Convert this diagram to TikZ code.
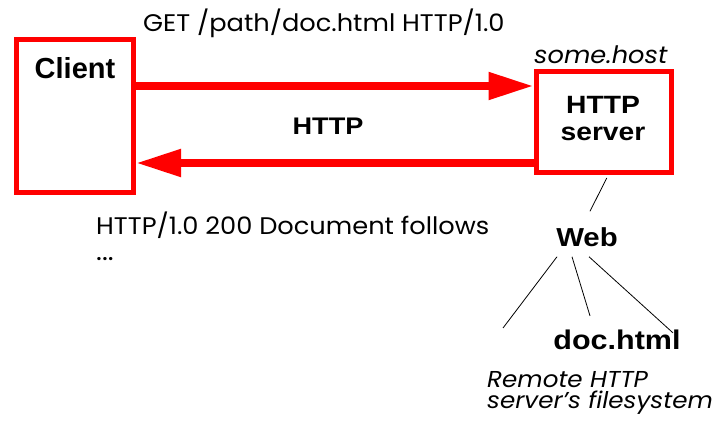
\documentclass[tikz,border=0pt]{standalone}
\usepackage{fontspec}
\setmainfont{Poppins}[FakeStretch=1.07]
\newfontfamily\boldf{Liberation Sans}[BoldFont={Liberation Sans Bold}]
\newfontfamily\wideboldf{Liberation Sans}[BoldFont={Liberation Sans Bold}, FakeStretch=1.13]
\usetikzlibrary{arrows.meta,calc}
\tikzset{
  box/.style={draw=red, line width=5pt, fill=white, inner sep=0pt},
  bigarrow/.style={draw=red, line width=8pt, -{Triangle[length=45pt 0 0, width=26pt 0 0, fill=red]}},
  thin/.style={draw=black, line width=0.8pt},
  plain/.style={inner sep=0pt, anchor=west, font=\fontsize{24}{26}\selectfont},
  slant/.style={inner sep=0pt, anchor=west, font=\fontsize{24}{26}\selectfont\itshape},
  heavy/.style={inner sep=0pt, font=\boldf\bfseries\fontsize{26}{27}\selectfont},
}
\begin{document}
\begin{tikzpicture}[x=1pt,y=-1pt]
\useasboundingbox (0,0) rectangle (714,428);
\node[box, minimum width=117pt, minimum height=153pt] (client) at (75,116) {};
\node[heavy, font=\boldf\bfseries\fontsize{29}{30}\selectfont] (clientlbl) at (75,68) {Client};
\node[box, minimum width=135.5pt, minimum height=101.5pt] (server) at (603.75,121.75) {};
\node[heavy, align=center, font=\wideboldf\bfseries\fontsize{25}{27}\selectfont] (serverlbl) at (603,119) {HTTP\\server};
\node[slant] (host) at (534,55) {some.host};
\node[plain] (get) at (143,23) {GET /path/doc.html HTTP/1.0};
\node[plain] (resp) at (96,225) {HTTP/1.0 200 Document follows};
\node[plain, font=\fontsize{26}{26}\selectfont] (dots) at (96,259) {...};
\node[heavy, font=\wideboldf\bfseries\fontsize{24}{26}\selectfont] (http) at (328,126) {HTTP};
\node[heavy, font=\wideboldf\bfseries\fontsize{26}{27}\selectfont] (web) at (587,237) {Web};
\node[heavy, font=\wideboldf\bfseries\fontsize{27}{28}\selectfont] (doc) at (617,340) {doc.html};
\node[slant, align=left, font=\fontsize{23}{21}\selectfont\itshape] (remote) at (487,393) {Remote HTTP\\server's filesystem};
% arrows
\coordinate (a1) at ([yshift=30pt]client.east);
\draw[bigarrow] (a1) -- (a1 -| server.west);
\coordinate (a2) at ([yshift=-41.25pt]server.west);
\draw[bigarrow] (a2) -- (a2 -| client.east);
% tree lines
\draw[thin] ([xshift=3pt,yshift=-3pt]server.south) -- ([xshift=3pt,yshift=16pt]web.north);
\coordinate (leaf) at (503,328);
\draw[thin] ([xshift=-30pt,yshift=-10pt]web.south) -- (leaf);
\draw[thin] ([xshift=-15pt,yshift=-10pt]web.south) -- ([xshift=-27pt,yshift=14pt]doc.north);
\draw[thin] ([xshift=2pt,yshift=-10pt]web.south) -- ([xshift=56pt,yshift=-3pt]doc.north);
\end{tikzpicture}
\end{document}
